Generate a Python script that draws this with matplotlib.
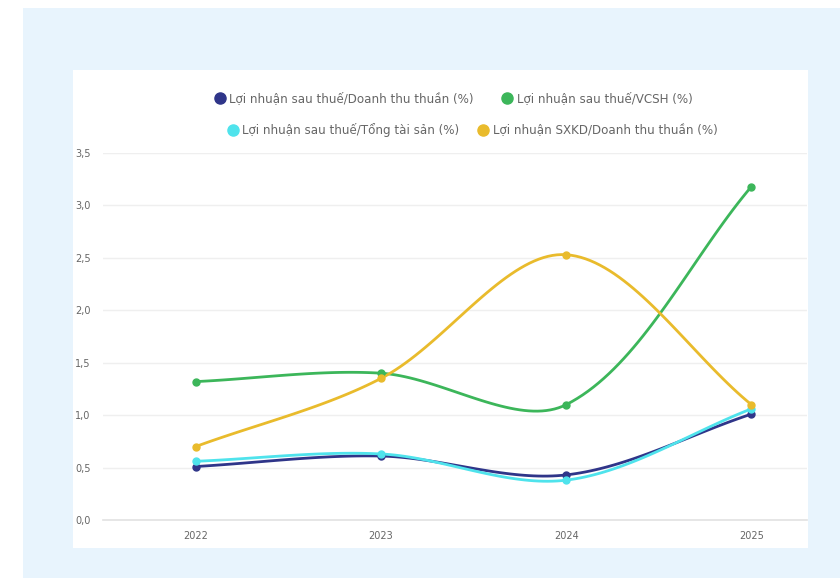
import numpy as np
import matplotlib.pyplot as plt
from matplotlib.patches import Rectangle
from matplotlib.lines import Line2D
from matplotlib.ticker import FuncFormatter

plt.rcParams['font.family'] = ['DejaVu Sans']

# data
years = [2022, 2023, 2024, 2025]
ln_dt = [0.51, 0.61, 0.43, 1.01]      # LNST / doanh thu thuan
ln_ts = [0.56, 0.63, 0.38, 1.06]      # LNST / tong tai san
ln_vcsh = [1.32, 1.40, 1.10, 3.18]    # LNST / VCSH
ln_sxkd = [0.70, 1.35, 2.53, 1.10]    # LN SXKD / doanh thu thuan

labels = [
    'Lợi nhuận sau thuế/Doanh thu thuần (%)',
    'Lợi nhuận sau thuế/Tổng tài sản (%)',
    'Lợi nhuận sau thuế/VCSH (%)',
    'Lợi nhuận SXKD/Doanh thu thuần (%)',
]
colors = ['#2f3589', '#4fe3ec', '#3cb65a', '#e9bb2c']
series = [ln_dt, ln_ts, ln_vcsh, ln_sxkd]


def smooth(xs, ys, sx=185.0, sy=105.0, t=0.33, n=40):
    # bezier spline through the points, control points from neighbours
    px = np.array(xs, float) * sx
    py = np.array(ys, float) * sy
    m = len(px)
    c1, c2 = [], []
    for i in range(m):
        p0 = (px[max(i - 1, 0)], py[max(i - 1, 0)])
        p1 = (px[i], py[i])
        p2 = (px[min(i + 1, m - 1)], py[min(i + 1, m - 1)])
        d01 = np.hypot(p1[0] - p0[0], p1[1] - p0[1])
        d12 = np.hypot(p2[0] - p1[0], p2[1] - p1[1])
        s01 = d01 / (d01 + d12) if d01 + d12 else 0
        s12 = d12 / (d01 + d12) if d01 + d12 else 0
        fa, fb = t * s01, t * s12
        c1.append((p1[0] - fa * (p2[0] - p0[0]), p1[1] - fa * (p2[1] - p0[1])))
        c2.append((p1[0] + fb * (p2[0] - p0[0]), p1[1] + fb * (p2[1] - p0[1])))
    ox, oy = [], []
    u = np.linspace(0, 1, n)
    for i in range(m - 1):
        a = np.array([px[i], py[i]])
        b = np.array(c2[i])
        c = np.array(c1[i + 1])
        d = np.array([px[i + 1], py[i + 1]])
        pts = ((1 - u) ** 3)[:, None] * a + (3 * (1 - u) ** 2 * u)[:, None] * b \
            + (3 * (1 - u) * u ** 2)[:, None] * c + (u ** 3)[:, None] * d
        ox.extend(pts[:, 0])
        oy.extend(pts[:, 1])
    return np.array(ox) / sx, np.array(oy) / sy


fig = plt.figure(figsize=(8.4, 5.78), dpi=100, facecolor='white')
W, H = 840, 578
fig.patches.append(Rectangle((23 / W, 0), 1, (H - 8) / H, transform=fig.transFigure,
                             facecolor='#e8f4fd', edgecolor='none', zorder=-2))
fig.patches.append(Rectangle((73 / W, (H - 548) / H), 735 / W, 478 / H,
                             transform=fig.transFigure, facecolor='white',
                             edgecolor='none', zorder=-1))

ax = fig.add_axes([103 / W, (H - 520) / H, 704 / W, 367 / H])
ax.set_facecolor('none')
ax.set_zorder(1)

for ys, col in zip(series, colors):
    sx_, sy_ = smooth(years, ys)
    ax.plot(sx_, sy_, color=col, lw=2, solid_capstyle='round', zorder=3)
    ax.plot(years, ys, 'o', color=col, ms=5, zorder=4)

ax.set_xlim(2021.5, 2025.3)
ax.set_ylim(0, 3.5)
ax.set_xticks(years)
ax.set_yticks(np.arange(0, 3.51, 0.5))
ax.yaxis.set_major_formatter(FuncFormatter(lambda v, p: f'{v:.1f}'.replace('.', ',')))
ax.grid(axis='y', color='#efefef', lw=1)
ax.set_axisbelow(True)
for s in ['top', 'right', 'left']:
    ax.spines[s].set_visible(False)
ax.spines['bottom'].set_color('#e2e2e2')
ax.spines['bottom'].set_linewidth(1.2)
ax.tick_params(length=0, labelsize=7, labelcolor='#666666')
ax.tick_params(axis='y', pad=9)
ax.tick_params(axis='x', pad=8)


def handle(c):
    return Line2D([], [], marker='o', ls='none', color=c, ms=8)


leg1 = fig.legend([handle(colors[0]), handle(colors[2])], [labels[0], labels[2]],
                  loc='center', bbox_to_anchor=(453 / W, 1 - 99 / H), ncol=2,
                  frameon=False, fontsize=8.6, labelcolor='#666666',
                  handletextpad=0.3, columnspacing=2.3, handlelength=1)
leg2 = fig.legend([handle(colors[1]), handle(colors[3])], [labels[1], labels[3]],
                  loc='center', bbox_to_anchor=(472 / W, 1 - 130 / H), ncol=2,
                  frameon=False, fontsize=8.6, labelcolor='#666666',
                  handletextpad=0.3, columnspacing=1.5, handlelength=1)

fig.savefig('out.png', dpi=100, facecolor=fig.get_facecolor())
